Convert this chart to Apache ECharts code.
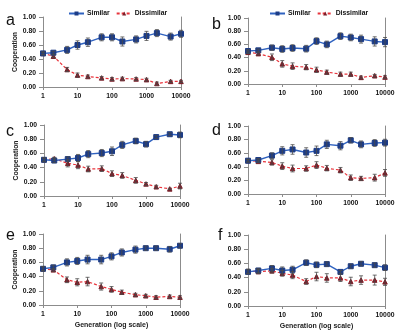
<!DOCTYPE html>
<html><head><meta charset="utf-8">
<script src="https://cdn.jsdelivr.net/npm/echarts@6/dist/echarts.min.js"></script>
<style>html,body{margin:0;padding:0;background:#fff}#c{width:400px;height:334px}</style>
</head><body><div id="c"></div>
<script>
const generations = [1,2,5,10,20,50,100,200,500,1000,2000,5000,10000];
const yTicks = [0,0.2,0.4,0.6,0.8,1.0];
const panelLetters = ['a','b','c','d','e','f'];
const seriesNames = ['Similar','Dissimilar'];
const xTitle = 'Generation (log scale)';
const yTitle = 'Cooperation';

const simA = [0.48,0.49,0.53,0.60,0.64,0.71,0.71,0.65,0.68,0.73,0.77,0.72,0.76];
const disA = [0.48,0.44,0.25,0.17,0.15,0.13,0.115,0.12,0.115,0.105,0.05,0.08,0.08];
const simAErr = [0.02,0.02,0.05,0.06,0.06,0.05,0.05,0.065,0.05,0.065,0.05,0.05,0.05];
const disAErr = [0.02,0.02,0.03,0.03,0.02,0.02,0.02,0.02,0.02,0.02,0.02,0.015,0.015];

const simB = [0.50,0.51,0.55,0.53,0.545,0.535,0.65,0.60,0.725,0.705,0.68,0.645,0.635];
const disB = [0.48,0.46,0.405,0.305,0.27,0.255,0.215,0.18,0.15,0.15,0.10,0.125,0.105];
const simBErr = [0.02,0.02,0.04,0.05,0.05,0.05,0.05,0.05,0.05,0.05,0.06,0.07,0.07];
const disBErr = [0.02,0.02,0.05,0.05,0.05,0.04,0.04,0.03,0.03,0.03,0.02,0.02,0.02];

const simC = [0.51,0.50,0.52,0.535,0.59,0.605,0.63,0.72,0.775,0.73,0.83,0.87,0.86];
const disC = [0.51,0.525,0.46,0.435,0.38,0.385,0.315,0.29,0.22,0.17,0.13,0.10,0.14];
const simCErr = [0.03,0.03,0.03,0.05,0.05,0.05,0.06,0.05,0.04,0.04,0.02,0.02,0.04];
const disCErr = [0.02,0.02,0.05,0.05,0.04,0.04,0.04,0.04,0.04,0.02,0.02,0.01,0.04];

const simD = [0.49,0.50,0.565,0.635,0.655,0.61,0.635,0.73,0.71,0.79,0.73,0.75,0.755];
const disD = [0.49,0.48,0.465,0.41,0.375,0.375,0.425,0.38,0.35,0.24,0.23,0.24,0.31];
const simDErr = [0.02,0.02,0.04,0.06,0.07,0.07,0.07,0.06,0.06,0.04,0.05,0.05,0.05];
const disDErr = [0.02,0.02,0.04,0.05,0.05,0.04,0.05,0.04,0.04,0.04,0.03,0.05,0.05];

const simE = [0.51,0.53,0.60,0.62,0.64,0.64,0.685,0.74,0.78,0.80,0.80,0.785,0.835];
const disE = [0.51,0.495,0.355,0.32,0.33,0.26,0.22,0.18,0.145,0.13,0.11,0.12,0.11];
const simEErr = [0.03,0.03,0.05,0.05,0.06,0.06,0.05,0.05,0.05,0.03,0.03,0.04,0.03];
const disEErr = [0.03,0.02,0.04,0.05,0.06,0.05,0.04,0.03,0.02,0.02,0.02,0.02,0.02];

const simF = [0.48,0.50,0.53,0.50,0.51,0.61,0.58,0.59,0.48,0.56,0.595,0.575,0.54];
const disF = [0.49,0.485,0.495,0.46,0.435,0.345,0.415,0.395,0.395,0.345,0.365,0.365,0.34];
const simFErr = [0.03,0.03,0.04,0.05,0.05,0.04,0.04,0.03,0.02,0.03,0.03,0.03,0.04];
const disFErr = [0.03,0.03,0.03,0.04,0.05,0.04,0.06,0.06,0.05,0.06,0.06,0.07,0.05];

const panelData = [
  [simA, disA, simAErr, disAErr],
  [simB, disB, simBErr, disBErr],
  [simC, disC, simCErr, disCErr],
  [simD, disD, simDErr, disDErr],
  [simE, disE, simEErr, disEErr],
  [simF, disF, simFErr, disFErr]
];

// layout (px)
const gridBoxes = [
  {left:43, top:17, width:138, height:70},
  {left:248, top:18, width:137, height:66},
  {left:44, top:125, width:136, height:71},
  {left:248, top:126, width:137, height:68},
  {left:43, top:234, width:137, height:71},
  {left:248, top:235, width:137, height:71}
];
const letterPos = [[6,13],[212,17],[6,124],[212,123],[6,228],[218,228]];
const FONT = '"Liberation Sans", Arial, sans-serif';
const FS = 6.8;
const axisCol = '#8c8c8c';
const simLine = '#2f62c0', simMark = '#1d3c86';
const disLine = '#e8343c', disMark = '#7a1e28';
const errCol = '#4a4a4a';

const grid = [], xAxis = [], yAxis = [], series = [], title = [];
panelLetters.forEach((L, i) => {
  const g = gridBoxes[i];
  grid.push(Object.assign({containLabel:false}, g));
  const bottomRow = i >= 4, leftCol = i % 2 === 0;
  xAxis.push({
    type:'log', logBase:10, min:1, max:10000, gridIndex:i,
    name: bottomRow ? xTitle : '', nameLocation:'middle', nameGap:17,
    nameTextStyle:{fontFamily:FONT, fontSize:FS+0.2, fontWeight:'bold', color:'#222'},
    axisLine:{show:true, lineStyle:{color:axisCol, width:1}},
    axisTick:{show:true, length:3, lineStyle:{color:axisCol}},
    minorTick:{show:false}, splitLine:{show:false},
    axisLabel:{fontFamily:FONT, fontSize:FS, fontWeight:'bold', color:'#111', margin:6,
      formatter:v => String(Math.round(v))}
  });
  yAxis.push({
    type:'value', min:0, max:1, interval:0.2, gridIndex:i,
    name: leftCol ? yTitle : '', nameLocation:'middle', nameGap:24, nameRotate:90,
    nameTextStyle:{fontFamily:FONT, fontSize:FS, fontWeight:'bold', color:'#222'},
    axisLine:{show:true, lineStyle:{color:axisCol, width:1}},
    axisTick:{show:true, length:4, lineStyle:{color:axisCol}},
    splitLine:{show:false},
    axisLabel:{fontFamily:FONT, fontSize:FS, fontWeight:'bold', color:'#111', margin:7,
      formatter:v => v.toFixed(2)}
  });
  yAxis.push({
    type:'value', min:0, max:1, gridIndex:i, position:'right',
    axisLine:{show:true, lineStyle:{color:axisCol, width:1}},
    axisTick:{show:false}, axisLabel:{show:false}, splitLine:{show:false}
  });
  const [sim, dis, simErr, disErr] = panelData[i];
  const mk = (arr, err) => generations.map((x, k) => [x, arr[k] - err[k], arr[k] + err[k]]);
  const errSeries = (vals, err) => ({
    type:'custom', xAxisIndex:i, yAxisIndex:2*i, z:4, silent:true,
    data: mk(vals, err),
    renderItem:(params, api) => {
      const x = api.value(0);
      const p1 = api.coord([x, api.value(1)]);
      const p2 = api.coord([x, api.value(2)]);
      const c = 2;
      return {type:'group', children:[
        {type:'line', shape:{x1:p1[0], y1:p1[1], x2:p2[0], y2:p2[1]}, style:{stroke:errCol, lineWidth:0.8}},
        {type:'line', shape:{x1:p1[0]-c, y1:p1[1], x2:p1[0]+c, y2:p1[1]}, style:{stroke:errCol, lineWidth:0.8}},
        {type:'line', shape:{x1:p2[0]-c, y1:p2[1], x2:p2[0]+c, y2:p2[1]}, style:{stroke:errCol, lineWidth:0.8}}
      ]};
    }
  });
  series.push(errSeries(sim, simErr));
  series.push(errSeries(dis, disErr));
  series.push({
    name:seriesNames[0], type:'line', xAxisIndex:i, yAxisIndex:2*i, z:3,
    data: generations.map((x,k) => [x, sim[k]]),
    symbol:'rect', symbolSize:5, showSymbol:true,
    lineStyle:{color:simLine, width:1.4},
    itemStyle:{color:simMark, borderColor:simMark}
  });
  series.push({
    name:seriesNames[1], type:'line', xAxisIndex:i, yAxisIndex:2*i, z:2,
    data: generations.map((x,k) => [x, dis[k]]),
    symbol:'triangle', symbolSize:4.5, showSymbol:true,
    lineStyle:{color:disLine, width:1.2, type:[3,2]},
    itemStyle:{color:disMark, borderColor:disMark}
  });
  title.push({
    text:L, left: letterPos[i][0], top: letterPos[i][1], padding:0,
    textStyle:{fontFamily:FONT, fontSize:16, fontWeight:'normal', color:'#111'}
  });
});

const legendBase = {
  data:seriesNames, itemWidth:15, itemHeight:5, itemGap:6, top:5,
  textStyle:{fontFamily:FONT, fontSize:FS, fontWeight:'bold', color:'#111', padding:[0,0,0,-2]},
  selectedMode:false
};
const legend = [
  Object.assign({left:63}, legendBase),
  Object.assign({left:264}, legendBase)
];

const chart = echarts.init(document.getElementById('c'), null, {renderer:'canvas'});
chart.setOption({animation:false, backgroundColor:'#fff', grid, xAxis, yAxis, series, title, legend});
</script></body></html>
